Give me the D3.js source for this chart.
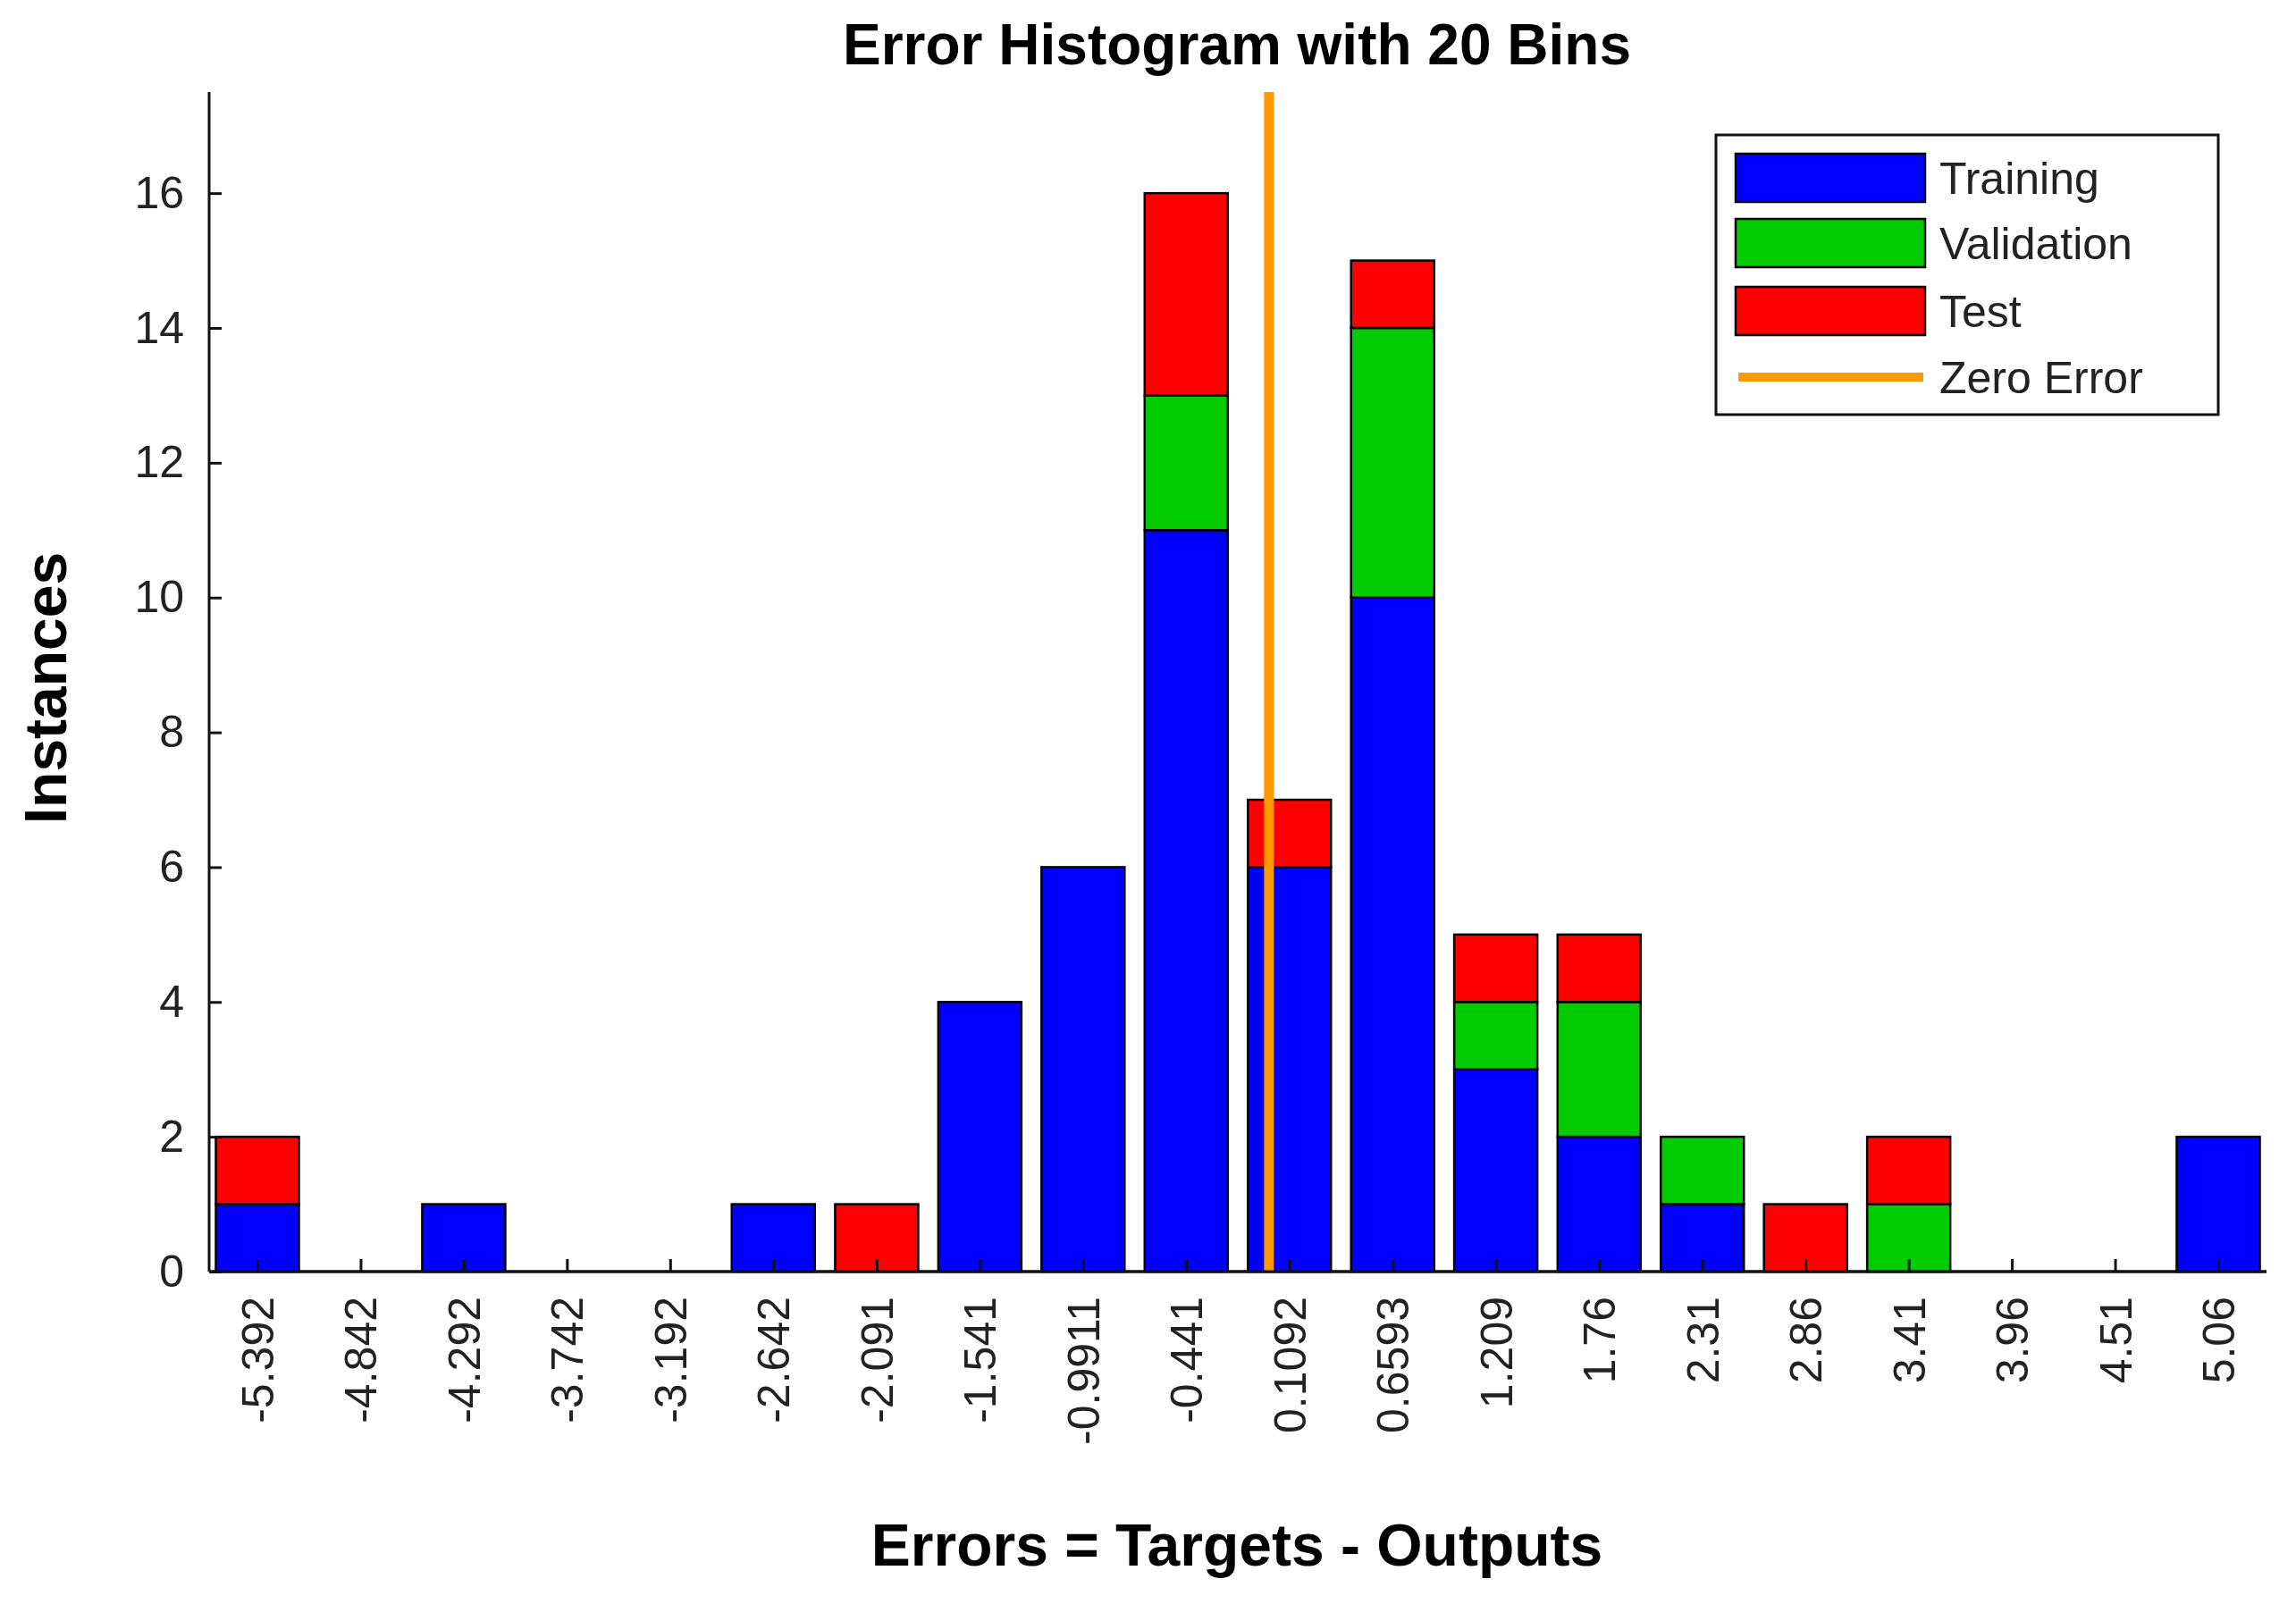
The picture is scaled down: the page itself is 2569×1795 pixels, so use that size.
<!DOCTYPE html>
<html><head><meta charset="utf-8">
<script src="https://cdn.jsdelivr.net/npm/d3@7"></script>
<style>body{margin:0;background:#fff}</style></head>
<body><svg id="c" width="2569" height="1795"></svg>
<script>
const bins = ["-5.392","-4.842","-4.292","-3.742","-3.192","-2.642","-2.091","-1.541","-0.9911","-0.441","0.1092","0.6593","1.209","1.76","2.31","2.86","3.41","3.96","4.51","5.06"];
const training   = [1,0,1,0,0,1,0,4,6,11,6,10,3,2,1,0,0,0,0,2];
const validation = [0,0,0,0,0,0,0,0,0,2,0,4,1,2,1,0,1,0,0,0];
const test       = [1,0,0,0,0,0,1,0,0,3,1,1,1,1,0,1,1,0,0,0];
const yTicks = [0,2,4,6,8,10,12,14,16];
const zeroError = 0;
const seriesNames = ["Training","Validation","Test"];
const colors = ["#0000ff","#00cc00","#ff0000"];

(function(){
const svg = d3.select("#c");
const font = "Liberation Sans, Arial, sans-serif";
const pL = 234, pR = 2536, pT = 103, base = 1423;
const binVals = bins.map(Number);
const x = d3.scaleLinear().domain([binVals[0], binVals[19]]).range([288, 2482]);
const bw = 93;
const y = d3.scaleLinear().domain([0, 17.5]).range([base, pT]);

const data = bins.map((b,i)=>({b, v:binVals[i], Training:training[i], Validation:validation[i], Test:test[i]}));
const stack = d3.stack().keys(seriesNames)(data);
stack.forEach((s,k)=>{
  svg.append("g").selectAll("rect").data(s.filter(d=>d[1]>d[0])).join("rect")
    .attr("x", d=>x(d.data.v)-bw/2).attr("width", bw)
    .attr("y", d=>y(d[1])).attr("height", d=>y(d[0])-y(d[1]))
    .attr("fill", colors[k]).attr("stroke","#000").attr("stroke-width",2.5);
});

const ya = svg.append("g").attr("transform",`translate(${pL},0)`)
  .call(d3.axisLeft(y).tickValues(yTicks).tickSize(-14).tickPadding(28));
ya.select(".domain").attr("d",`M0,${pT}V${base}`).attr("stroke","#111").attr("stroke-width",3);
ya.selectAll(".tick line").attr("stroke","#111").attr("stroke-width",3);
ya.selectAll("text").attr("font-family",font).attr("font-size",50).attr("fill","#222");

const xa = svg.append("g").attr("transform",`translate(0,${base})`)
  .call(d3.axisBottom(x).tickValues(binVals).tickFormat((d,i)=>bins[i]).tickSize(-14).tickPadding(0));
xa.select(".domain").attr("d",`M${pL},0H${pR}`).attr("stroke","#111").attr("stroke-width",3);
xa.selectAll(".tick line").attr("stroke","#111").attr("stroke-width",3);
xa.selectAll("text").attr("font-family",font).attr("font-size",50).attr("fill","#222")
  .attr("transform","translate(0,28) rotate(-90)").attr("text-anchor","end").attr("dy","0.35em").attr("y",0).attr("x",0);

svg.append("line").attr("x1",x(zeroError)).attr("x2",x(zeroError))
  .attr("y1",pT).attr("y2",base).attr("stroke","#ff9900").attr("stroke-width",11);
svg.append("line").attr("x1",pL).attr("x2",pR).attr("y1",base).attr("y2",base).attr("stroke","#111").attr("stroke-width",3);

svg.append("text").attr("x",1384).attr("y",72).attr("text-anchor","middle").attr("font-family",font)
  .attr("font-weight","bold").attr("font-size",64).text("Error Histogram with 20 Bins");
svg.append("text").attr("x",1384).attr("y",1752).attr("text-anchor","middle").attr("font-family",font)
  .attr("font-weight","bold").attr("font-size",66).text("Errors = Targets - Outputs");
svg.append("text").attr("transform","translate(74,770) rotate(-90)").attr("text-anchor","middle").attr("font-family",font)
  .attr("font-weight","bold").attr("font-size",66).text("Instances");

const lg = svg.append("g");
lg.append("rect").attr("x",1920).attr("y",151).attr("width",562).attr("height",313).attr("fill","#fff").attr("stroke","#111").attr("stroke-width",3);
const rowsY = [199,272,348,422];
seriesNames.forEach((n,i)=>{
  lg.append("rect").attr("x",1942).attr("y",rowsY[i]-27).attr("width",212).attr("height",54)
    .attr("fill",colors[i]).attr("stroke","#000").attr("stroke-width",2.5);
});
lg.append("line").attr("x1",1945).attr("x2",2152).attr("y1",rowsY[3]).attr("y2",rowsY[3]).attr("stroke","#ff9900").attr("stroke-width",10);
seriesNames.concat(["Zero Error"]).forEach((n,i)=>{
  lg.append("text").attr("x",2170).attr("y",rowsY[i]).attr("dy","0.35em").attr("font-family",font)
    .attr("font-size",50).attr("fill","#222").text(n);
});
})();
</script></body></html>
